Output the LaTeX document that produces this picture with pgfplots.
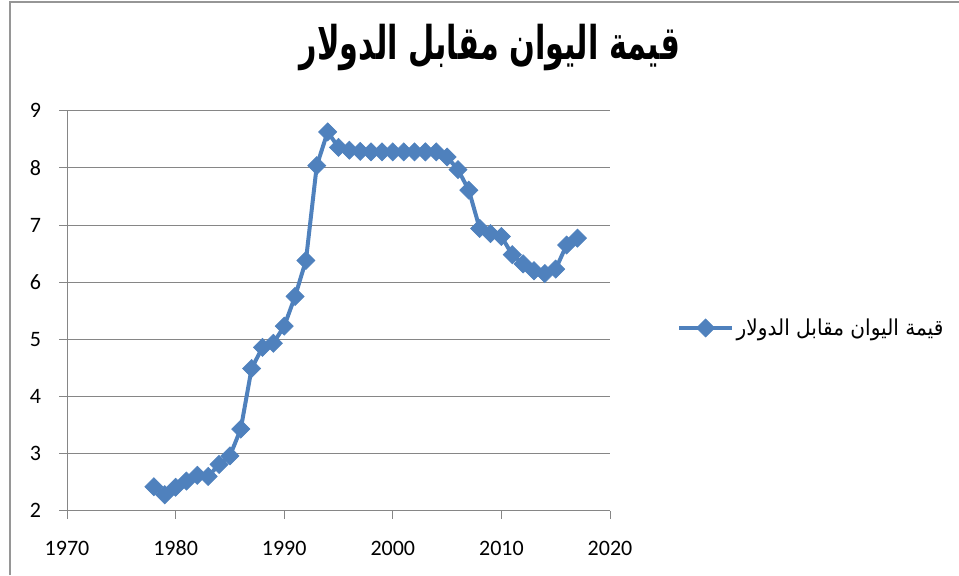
\documentclass[border=0pt]{standalone}
\usepackage{fontspec}
\usepackage{graphicx}
\usepackage{pgfplots}
\pgfplotsset{compat=1.18}
\setmainfont{Carlito}
\newfontfamily\arabicfont[Script=Arabic]{DejaVu Sans}
\TeXXeTstate=1
\definecolor{ser}{RGB}{79,129,189}
\definecolor{gridc}{RGB}{134,134,134}
\definecolor{framec}{RGB}{150,150,150}
\begin{document}
\begin{tikzpicture}[x=0.75pt,y=0.75pt]
\useasboundingbox (0,0) rectangle (959,575);
\draw[framec, line width=1.5pt] (10,0) -- (10,573) -- (959,573);
\node[anchor=center, inner sep=0pt] at (490,527) {\resizebox*{285pt}{35pt}{\arabicfont\bfseries\beginR قيمة اليوان مقابل الدولار\endR}};
\begin{axis}[
  at={(50.25pt,48.2pt)}, anchor=south west,
  scale only axis, width=407.25pt, height=300pt,
  xmin=1970, xmax=2020, ymin=2, ymax=9,
  xtick={1970,1980,...,2020}, ytick={2,3,...,9},
  axis x line*=bottom, axis y line*=left,
  axis line style={gridc, line width=0.75pt, -},
  tick align=outside, major tick length=6pt,
  tick style={gridc, line width=0.75pt},
  ymajorgrids, grid style={gridc, line width=0.75pt},
  /pgf/number format/assume math mode=true,
  /pgf/number format/1000 sep={},
  ticklabel style={font=\fontsize{16.5}{19}\selectfont, text=black},
  xticklabel style={yshift=-13pt},
  yticklabel style={xshift=-10pt},
  legend style={at={(1.123,0.457)}, anchor=west, draw=none, fill=none, inner sep=0pt,
    /tikz/every even column/.append style={column sep=4pt}},
  legend image code/.code={
    \draw[mark repeat=2,mark phase=2,#1] plot coordinates {(0pt,0pt) (19.9pt,0pt) (39.75pt,0pt)};
  },
  clip=false,
]
\addplot[color=ser, line width=3pt, mark=square*, mark size=4.8pt,
  mark options={rotate=45, fill=ser, draw=ser, line width=0.5pt}]
  coordinates {
  (1978,2.42) (1979,2.28) (1980,2.41) (1981,2.52) (1982,2.62) (1983,2.60)
  (1984,2.81) (1985,2.96) (1986,3.43) (1987,4.49) (1988,4.86) (1989,4.93)
  (1990,5.23) (1991,5.75) (1992,6.38) (1993,8.04) (1994,8.63) (1995,8.36)
  (1996,8.31) (1997,8.29) (1998,8.28) (1999,8.28) (2000,8.28) (2001,8.28)
  (2002,8.28) (2003,8.28) (2004,8.28) (2005,8.19) (2006,7.97) (2007,7.61)
  (2008,6.94) (2009,6.85) (2010,6.80) (2011,6.48) (2012,6.32) (2013,6.20)
  (2014,6.15) (2015,6.23) (2016,6.65) (2017,6.77)
  };
\addlegendentry{\resizebox*{155pt}{16.5pt}{\arabicfont\beginR قيمة اليوان مقابل الدولار\endR}}
\end{axis}
\end{tikzpicture}
\end{document}
